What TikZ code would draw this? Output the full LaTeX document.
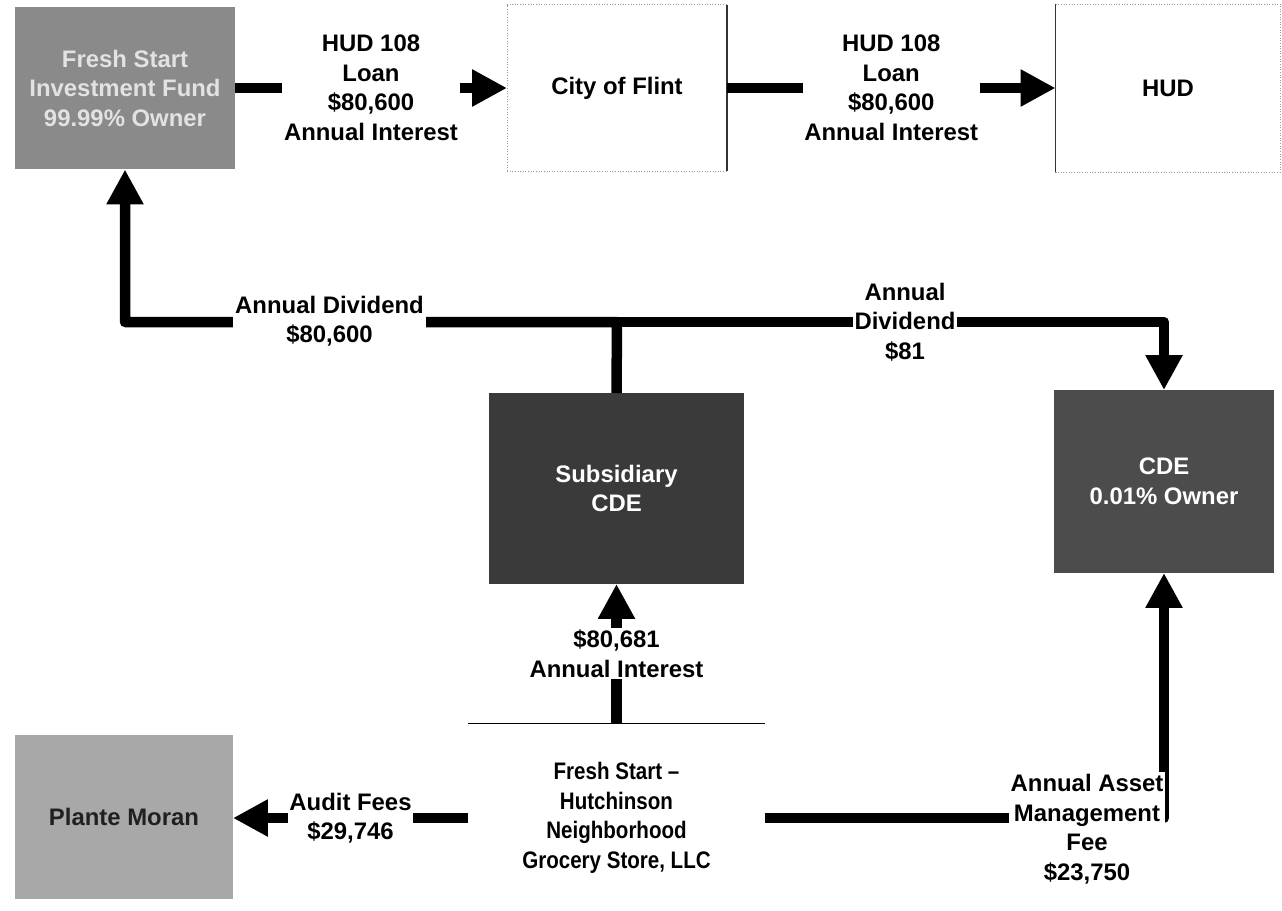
\documentclass[tikz,border=0pt]{standalone}
\usepackage{fontspec}
\setmainfont{Liberation Sans}
\newfontfamily\narrowfont[FakeStretch=0.86,Ligatures=TeX]{Liberation Sans}
\usetikzlibrary{arrows.meta}
\definecolor{fundfill}{HTML}{8A8A8A}
\definecolor{fundtext}{HTML}{E2E2E2}
\definecolor{subfill}{HTML}{3A3A3A}
\definecolor{cdefill}{HTML}{4C4C4C}
\definecolor{plantefill}{HTML}{A8A8A8}
\definecolor{planttext}{HTML}{202020}
\definecolor{wborder}{HTML}{9A9A9A}
\begin{document}
\begin{tikzpicture}[x=0.02cm,y=-0.02cm,
  txt/.style={font=\fontsize{13.6}{16.8}\selectfont\bfseries, align=center},
  box/.style={txt, inner sep=0pt, outer sep=0pt},
  wbox/.style={box, draw=wborder, densely dotted, line width=0.5pt},
  edgeline/.style={line width=0.6pt, draw=black!80},
  grocbox/.style={inner sep=0pt, outer sep=0pt, align=center,
    font=\fontsize{13.6}{16.8}\selectfont\narrowfont\bfseries},
  lbl/.style={txt, fill=white, inner xsep=1pt, inner ysep=1pt},
  conn/.style={line width=0.21cm, line join=round},
  tip/.style={-{Triangle[length=0.7cm,width=0.7cm]}}]
\useasboundingbox (0,0) rectangle (1282,910);

% boxes
\node[box, fill=fundfill, text=fundtext, minimum width=4.4cm, minimum height=3.26cm] (fund) at (125,88) {Fresh Start\\Investment Fund\\99.99\% Owner};
\node[wbox, minimum width=4.4cm, minimum height=3.34cm] (flint) at (617,88) {City of Flint};
\node[wbox, minimum width=4.5cm, minimum height=3.36cm] (hud) at (1168,88) {HUD};
\draw[edgeline] (flint.north east) -- (flint.south east);
\draw[edgeline] (hud.north west) -- (hud.south west);
\node[box, fill=subfill, text=white, minimum width=5.1cm, minimum height=3.82cm] (sub) at (616.5,488.5) {Subsidiary\\CDE};
\node[box, fill=cdefill, text=white, minimum width=4.4cm, minimum height=3.66cm] (cde) at (1164,481.5) {CDE\\0.01\% Owner};
\node[box, fill=plantefill, text=planttext, minimum width=4.36cm, minimum height=3.3cm] (plante) at (124,817) {Plante Moran};
\node[grocbox, minimum width=5.94cm, minimum height=3.8cm] (groc) at (616.5,818) {Fresh Start \textendash\\Hutchinson\\Neighborhood\\Grocery Store, LLC};
\draw[line width=0.6pt] (groc.north west) -- (groc.north east);

% top flows
\draw[conn, tip] (fund.east) -- node[lbl] (l1) {HUD 108\\Loan\\\$80,600\\Annual Interest} (flint.west);
\draw[conn, tip] (flint.east) -- node[lbl] (l2) {HUD 108\\Loan\\\$80,600\\Annual Interest} (hud.west);

% dividends
\coordinate (j) at (617,322);
\draw[conn, tip] (sub.north) -- (j) -| (fund.south);
\draw[conn, tip] (j) -| (cde.north);
\node[lbl] (ld1) at (329.5,321) {Annual Dividend\\\$80,600};
\node[lbl] (ld2) at (905,322) {Annual\\Dividend\\\$81};

% interest
\draw[conn, tip] (groc.north) -- node[lbl] (li) {\$80,681\\Annual Interest} (sub.south);

% audit fees
\draw[conn, tip] (groc.west) -- node[lbl] (lf) {Audit Fees\\\$29,746} (groc.west -| plante.east);

% asset management fee
\draw[conn, tip] (groc.east) -| (cde.south);
\node[lbl] (la) at (1087,829) {Annual Asset\\Management\\Fee\\\$23,750};
\end{tikzpicture}
\end{document}
